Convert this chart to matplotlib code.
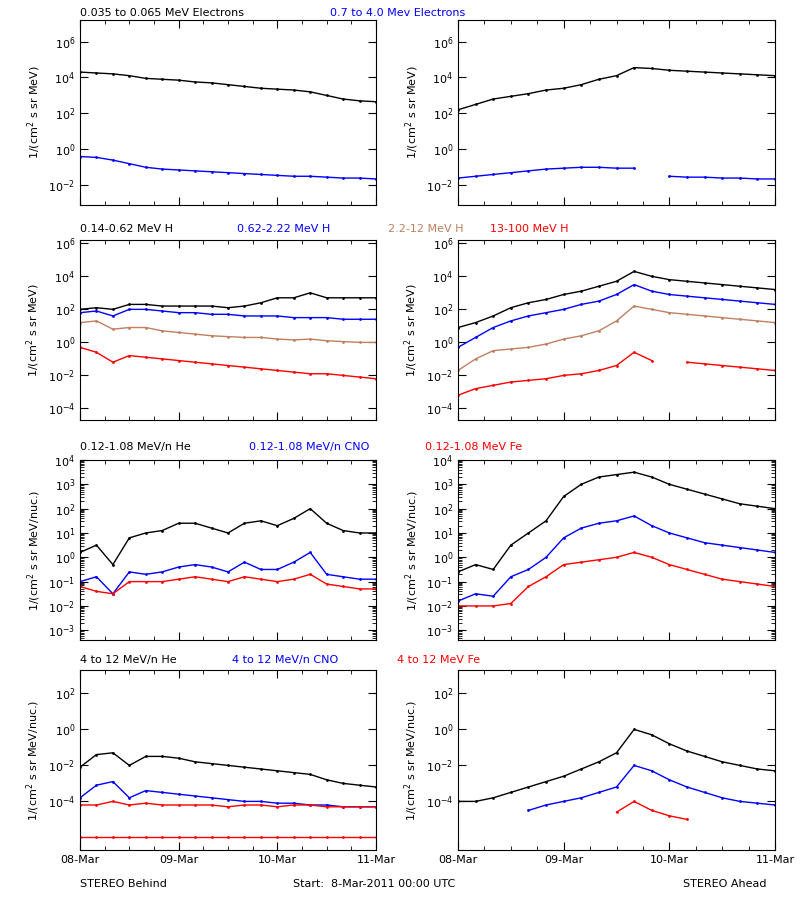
import numpy as np
import matplotlib
matplotlib.use("Agg")
import matplotlib.pyplot as plt
from matplotlib.ticker import LogLocator, NullFormatter, MultipleLocator, FixedLocator

nan = np.nan
hours = np.arange(0, 73, 4)

# log10 values, every 4 hours from 08-Mar 00:00
e_lo_B = [4.3,4.25,4.2,4.1,3.95,3.9,3.85,3.75,3.7,3.6,3.5,3.4,3.35,3.3,3.2,3.0,2.8,2.7,2.65]
e_hi_B = [-0.4,-0.45,-0.6,-0.8,-1.0,-1.1,-1.15,-1.2,-1.25,-1.3,-1.35,-1.4,-1.45,-1.5,-1.5,-1.55,-1.6,-1.6,-1.65]
e_lo_A = [2.2,2.5,2.8,2.95,3.1,3.3,3.4,3.6,3.9,4.1,4.55,4.5,4.4,4.35,4.3,4.25,4.2,4.15,4.1]
e_hi_A = [-1.6,-1.5,-1.4,-1.3,-1.2,-1.1,-1.05,-1.0,-1.0,-1.05,-1.05,nan,-1.5,-1.55,-1.55,-1.6,-1.6,-1.65,-1.65]

h1_B = [2.0,2.1,2.0,2.3,2.3,2.2,2.2,2.2,2.2,2.1,2.2,2.4,2.7,2.7,3.0,2.7,2.7,2.7,2.7]
h2_B = [1.8,1.9,1.6,2.0,2.0,1.9,1.8,1.8,1.7,1.7,1.6,1.6,1.6,1.5,1.5,1.5,1.4,1.4,1.4]
h3_B = [1.2,1.3,0.8,0.9,0.9,0.7,0.6,0.5,0.4,0.35,0.3,0.3,0.2,0.15,0.2,0.1,0.05,0.0,0.0]
h4_B = [-0.3,-0.6,-1.2,-0.8,-0.9,-1.0,-1.1,-1.2,-1.3,-1.4,-1.5,-1.6,-1.7,-1.8,-1.9,-1.9,-2.0,-2.1,-2.2]
h1_A = [0.9,1.2,1.6,2.1,2.4,2.6,2.9,3.1,3.4,3.7,4.3,4.0,3.8,3.7,3.6,3.5,3.4,3.3,3.2]
h2_A = [-0.3,0.3,0.9,1.3,1.6,1.8,2.0,2.3,2.5,2.9,3.5,3.1,2.9,2.8,2.7,2.6,2.5,2.4,2.3]
h3_A = [-1.7,-1.0,-0.5,-0.4,-0.3,-0.1,0.2,0.4,0.7,1.3,2.2,2.0,1.8,1.7,1.6,1.5,1.4,1.3,1.2]
h4_A = [-3.2,-2.8,-2.6,-2.4,-2.3,-2.2,-2.0,-1.9,-1.7,-1.4,-0.6,-1.1,nan,-1.2,-1.3,-1.4,-1.5,-1.6,-1.7]

he_B = [0.2,0.5,-0.3,0.8,1.0,1.1,1.4,1.4,1.2,1.0,1.4,1.5,1.3,1.6,2.0,1.4,1.1,1.0,1.0]
cno_B = [-1.0,-0.8,-1.5,-0.6,-0.7,-0.6,-0.4,-0.3,-0.4,-0.6,-0.2,-0.5,-0.5,-0.2,0.2,-0.7,-0.8,-0.9,-0.9]
fe_B = [-1.2,-1.4,-1.5,-1.0,-1.0,-1.0,-0.9,-0.8,-0.9,-1.0,-0.8,-0.9,-1.0,-0.9,-0.7,-1.1,-1.2,-1.3,-1.3]
he_A = [-0.6,-0.3,-0.5,0.5,1.0,1.5,2.5,3.0,3.3,3.4,3.5,3.3,3.0,2.8,2.6,2.4,2.2,2.1,2.0]
cno_A = [-1.8,-1.5,-1.6,-0.8,-0.5,0.0,0.8,1.2,1.4,1.5,1.7,1.3,1.0,0.8,0.6,0.5,0.4,0.3,0.2]
fe_A = [-2.0,-2.0,-2.0,-1.9,-1.2,-0.8,-0.3,-0.2,-0.1,0.0,0.2,0.0,-0.3,-0.5,-0.7,-0.9,-1.0,-1.1,-1.2]

he4_B = [-2.1,-1.4,-1.3,-2.0,-1.5,-1.5,-1.6,-1.8,-1.9,-2.0,-2.1,-2.2,-2.3,-2.4,-2.5,-2.8,-3.0,-3.1,-3.2]
cno4_B = [-3.8,-3.1,-2.9,-3.8,-3.4,-3.5,-3.6,-3.7,-3.8,-3.9,-4.0,-4.0,-4.1,-4.1,-4.2,-4.2,-4.3,-4.3,-4.3]
fe4_B = [-4.2,-4.2,-4.0,-4.2,-4.1,-4.2,-4.2,-4.2,-4.2,-4.3,-4.2,-4.2,-4.3,-4.2,-4.2,-4.3,-4.3,-4.3,-4.3]
fe4_B_low = [-6.0]*19
he4_A = [-4.0,-4.0,-3.8,-3.5,-3.2,-2.9,-2.6,-2.2,-1.8,-1.3,0.0,-0.3,-0.8,-1.2,-1.5,-1.8,-2.0,-2.2,-2.3]
cno4_A = [nan,nan,nan,nan,-4.5,-4.2,-4.0,-3.8,-3.5,-3.2,-2.0,-2.3,-2.8,-3.2,-3.5,-3.8,-4.0,-4.1,-4.2]
fe4_A = [nan,nan,nan,nan,nan,nan,nan,nan,nan,-4.6,-4.0,-4.5,-4.8,-5.0,nan,nan,nan,nan,nan]

x_ticks = [0, 24, 48, 72]
x_labels = ["08-Mar", "09-Mar", "10-Mar", "11-Mar"]

BROWN = "#c08060"
fig = plt.figure(figsize=(8, 9), dpi=100)
FS = 8

rows = [(20, 205, (-3.1, 7.2), "1/(cm$^2$ s sr MeV)"),
        (240, 420, (-4.7, 6.2), "1/(cm$^2$ s sr MeV)"),
        (460, 640, (-3.4, 4.0), "1/(cm$^2$ s sr MeV/nuc.)"),
        (670, 850, (-6.7, 3.3), "1/(cm$^2$ s sr MeV/nuc.)")]
cols = [(80, 376), (458, 775)]
data = [
    [[(e_lo_B, 'k'), (e_hi_B, 'b')], [(e_lo_A, 'k'), (e_hi_A, 'b')]],
    [[(h1_B, 'k'), (h2_B, 'b'), (h3_B, BROWN), (h4_B, 'r')],
     [(h1_A, 'k'), (h2_A, 'b'), (h3_A, BROWN), (h4_A, 'r')]],
    [[(he_B, 'k'), (cno_B, 'b'), (fe_B, 'r')], [(he_A, 'k'), (cno_A, 'b'), (fe_A, 'r')]],
    [[(he4_B, 'k'), (cno4_B, 'b'), (fe4_B, 'r'), (fe4_B_low, 'r')],
     [(he4_A, 'k'), (cno4_A, 'b'), (fe4_A, 'r')]],
]
ticks = [[6, 4, 2, 0, -2], [6, 4, 2, 0, -2, -4], [4, 3, 2, 1, 0, -1, -2, -3], [2, 0, -2, -4]]

for r, (yt, yb, (lo, hi), lab) in enumerate(rows):
    for c, (xl, xr) in enumerate(cols):
        ax = fig.add_axes([xl/800, 1-yb/900, (xr-xl)/800, (yb-yt)/900])
        for vals, col in data[r][c]:
            v = np.array(vals, dtype=float)
            ax.plot(hours, 10**v, color=col, lw=1.0, marker='.', ms=2)
        ax.set_yscale('log')
        ax.set_ylim(10**lo, 10**hi)
        ax.set_xlim(0, 72)
        ax.yaxis.set_major_locator(FixedLocator([10.0**k for k in ticks[r]]))
        ax.yaxis.set_major_formatter(matplotlib.ticker.FuncFormatter(lambda y, p: "10$^{%d}$" % round(np.log10(y))))
        ax.yaxis.set_minor_locator(LogLocator(base=10, subs=np.arange(2, 10)))
        ax.yaxis.set_minor_formatter(NullFormatter())
        ax.xaxis.set_major_locator(FixedLocator(x_ticks))
        ax.xaxis.set_minor_locator(MultipleLocator(6))
        ax.tick_params(which='both', direction='in', top=True, right=True, labelsize=FS)
        ax.tick_params(which='major', length=6)
        ax.tick_params(which='minor', length=3)
        ax.set_ylabel(lab, fontsize=FS)
        if r == 3:
            ax.set_xticklabels(x_labels)
        else:
            ax.set_xticklabels([])

titles = [
    (13, [(80, "0.035 to 0.065 MeV Electrons", 'k'), (330, "0.7 to 4.0 Mev Electrons", 'b')]),
    (229, [(80, "0.14-0.62 MeV H", 'k'), (237, "0.62-2.22 MeV H", 'b'), (388, "2.2-12 MeV H", BROWN), (490, "13-100 MeV H", 'r')]),
    (447, [(80, "0.12-1.08 MeV/n He", 'k'), (249, "0.12-1.08 MeV/n CNO", 'b'), (425, "0.12-1.08 MeV Fe", 'r')]),
    (660, [(80, "4 to 12 MeV/n He", 'k'), (232, "4 to 12 MeV/n CNO", 'b'), (397, "4 to 12 MeV Fe", 'r')]),
]
for y, items in titles:
    for x, t, col in items:
        fig.text(x/800, 1-y/900, t, color=col, fontsize=FS, va='center')
fig.text(80/800, 1-884/900, "STEREO Behind", fontsize=FS, va='center')
fig.text(293/800, 1-884/900, "Start:  8-Mar-2011 00:00 UTC", fontsize=FS, va='center')
fig.text(683/800, 1-884/900, "STEREO Ahead", fontsize=FS, va='center')
fig.savefig("out.png", dpi=100)
